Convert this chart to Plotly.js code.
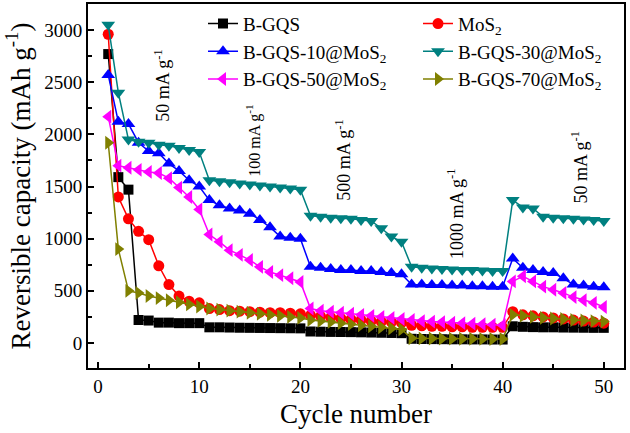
<!DOCTYPE html>
<html>
<head>
<meta charset="utf-8">
<script src="https://cdn.plot.ly/plotly-3.0.1.min.js"></script>
<style>html,body{margin:0;padding:0;background:#fff;}#chart{width:630px;height:433px;}</style>
</head>
<body>
<div id="chart"></div>
<script>
var cycles = [];
for (var i = 1; i <= 50; i++) cycles.push(i);

var seriesNames = ["B-GQS", "MoS<sub>2</sub>", "B-GQS-10@MoS<sub>2</sub>", "B-GQS-30@MoS<sub>2</sub>", "B-GQS-50@MoS<sub>2</sub>", "B-GQS-70@MoS<sub>2</sub>"];

var bgqs = [2770,1590,1470,220,215,195,195,190,190,190,
            150,150,148,146,145,144,143,142,141,140,
            110,108,106,105,104,102,100,98,96,94,
            40,38,37,36,35,35,34,34,33,33,
            160,155,152,150,150,148,147,146,145,145];
var mos2 = [2960,1400,1190,1070,990,740,560,450,400,385,
            330,320,310,305,300,295,290,290,285,280,
            265,255,245,235,225,220,210,205,200,195,
            170,165,160,160,155,155,150,150,150,150,
            300,270,260,250,240,230,220,210,200,190];
var bgqs10 = [2570,2120,2100,1920,1840,1820,1720,1650,1560,1500,
              1370,1320,1290,1270,1240,1180,1110,1020,1010,1000,
              730,720,710,700,700,690,690,680,670,660,
              560,560,555,555,550,550,545,545,540,540,
              810,720,700,680,670,620,560,550,540,535];
var bgqs30 = [3050,2400,1950,1930,1920,1900,1890,1870,1850,1830,
              1560,1550,1540,1530,1520,1510,1500,1490,1480,1470,
              1220,1210,1200,1195,1190,1180,1170,1100,1020,970,
              730,720,715,710,705,700,700,695,690,690,
              1370,1300,1290,1210,1200,1195,1190,1185,1180,1170];
var bgqs50 = [2170,1700,1680,1660,1640,1630,1580,1490,1400,1280,
              1040,970,890,845,795,730,680,650,620,585,
              330,310,300,290,280,270,260,250,240,230,
              220,210,205,200,195,190,185,180,175,170,
              590,640,590,540,510,480,440,410,385,345];
var bgqs70 = [1920,900,500,480,450,430,410,390,370,350,
              330,320,310,300,290,280,270,260,250,240,
              220,210,200,190,180,170,160,150,140,130,
              45,44,43,42,41,40,40,39,38,38,
              270,260,250,240,235,230,220,215,210,205];

var rateLabels = ["50 mA g<sup>-1</sup>", "100 mA g<sup>-1</sup>", "500 mA g<sup>-1</sup>", "1000 mA g<sup>-1</sup>", "50 mA g<sup>-1</sup>"];
var rateX = [6.4, 15.4, 24.3, 35.4, 47.6];
var rateY = [2474, 1937, 1755, 1237, 1687];

var allSeries = [bgqs, mos2, bgqs10, bgqs30, bgqs50, bgqs70];
var colors = ["#000000", "#FF0000", "#0000FF", "#008080", "#FF00FF", "#808000"];
var symbols = ["square", "circle", "triangle-up", "triangle-down", "triangle-left", "triangle-right"];
var sizes = [10, 11, 12, 12, 12, 12];
var legendIds = ["legend", "legend2", "legend", "legend2", "legend", "legend2"];

var traces = allSeries.map(function(vals, k) {
  return {
    x: cycles, y: vals, name: seriesNames[k], type: "scatter", mode: "lines+markers",
    legend: legendIds[k],
    line: {color: colors[k], width: 1.5},
    marker: {color: colors[k], symbol: symbols[k], size: sizes[k]}
  };
});

var font = "Liberation Serif, Times New Roman, serif";

var annotations = rateLabels.map(function(t, k) {
  return {x: rateX[k], y: rateY[k], xref: "x", yref: "y", text: t, showarrow: false,
          textangle: -90, font: {family: font, size: (k === 1 ? 16 : 18), color: "#000"}};
});

var legendBase = {orientation: "v", xanchor: "left", y: 0.998, yanchor: "top",
                  font: {family: font, size: 19}, bgcolor: "rgba(0,0,0,0)", tracegroupgap: 0,
                  borderwidth: 0};

var layout = {
  width: 630, height: 433,
  margin: {l: 88, r: 6, t: 4, b: 65},
  paper_bgcolor: "#fff", plot_bgcolor: "#fff",
  font: {family: font, color: "#000"},
  showlegend: true,
  legend: Object.assign({}, legendBase, {x: (203 - 88) / 536}),
  legend2: Object.assign({}, legendBase, {x: (418 - 88) / 536}),
  xaxis: {range: [-1, 52], tickmode: "linear", tick0: 0, dtick: 10,
          ticks: "inside", ticklen: 6, tickwidth: 2, tickcolor: "#000",
          minor: {dtick: 5, ticks: "inside", ticklen: 4, tickwidth: 2, tickcolor: "#000"},
          showline: true, linewidth: 2, linecolor: "#000", mirror: true,
          showgrid: false, zeroline: false,
          tickfont: {family: font, size: 19},
          title: {text: "Cycle number", font: {family: font, size: 27}, standoff: 8}},
  yaxis: {range: [-240, 3250], tickmode: "linear", tick0: 0, dtick: 500,
          ticks: "inside", ticklen: 6, tickwidth: 2, tickcolor: "#000",
          minor: {dtick: 250, ticks: "inside", ticklen: 4, tickwidth: 2, tickcolor: "#000"},
          showline: true, linewidth: 2, linecolor: "#000", mirror: true,
          showgrid: false, zeroline: false,
          tickfont: {family: font, size: 19},
          title: {text: "Reversible capacity (mAh g<sup>-1</sup>)", font: {family: font, size: 27}, standoff: 6}},
  annotations: annotations
};

Plotly.newPlot("chart", traces, layout, {displayModeBar: false, staticPlot: true});
</script>
</body>
</html>
